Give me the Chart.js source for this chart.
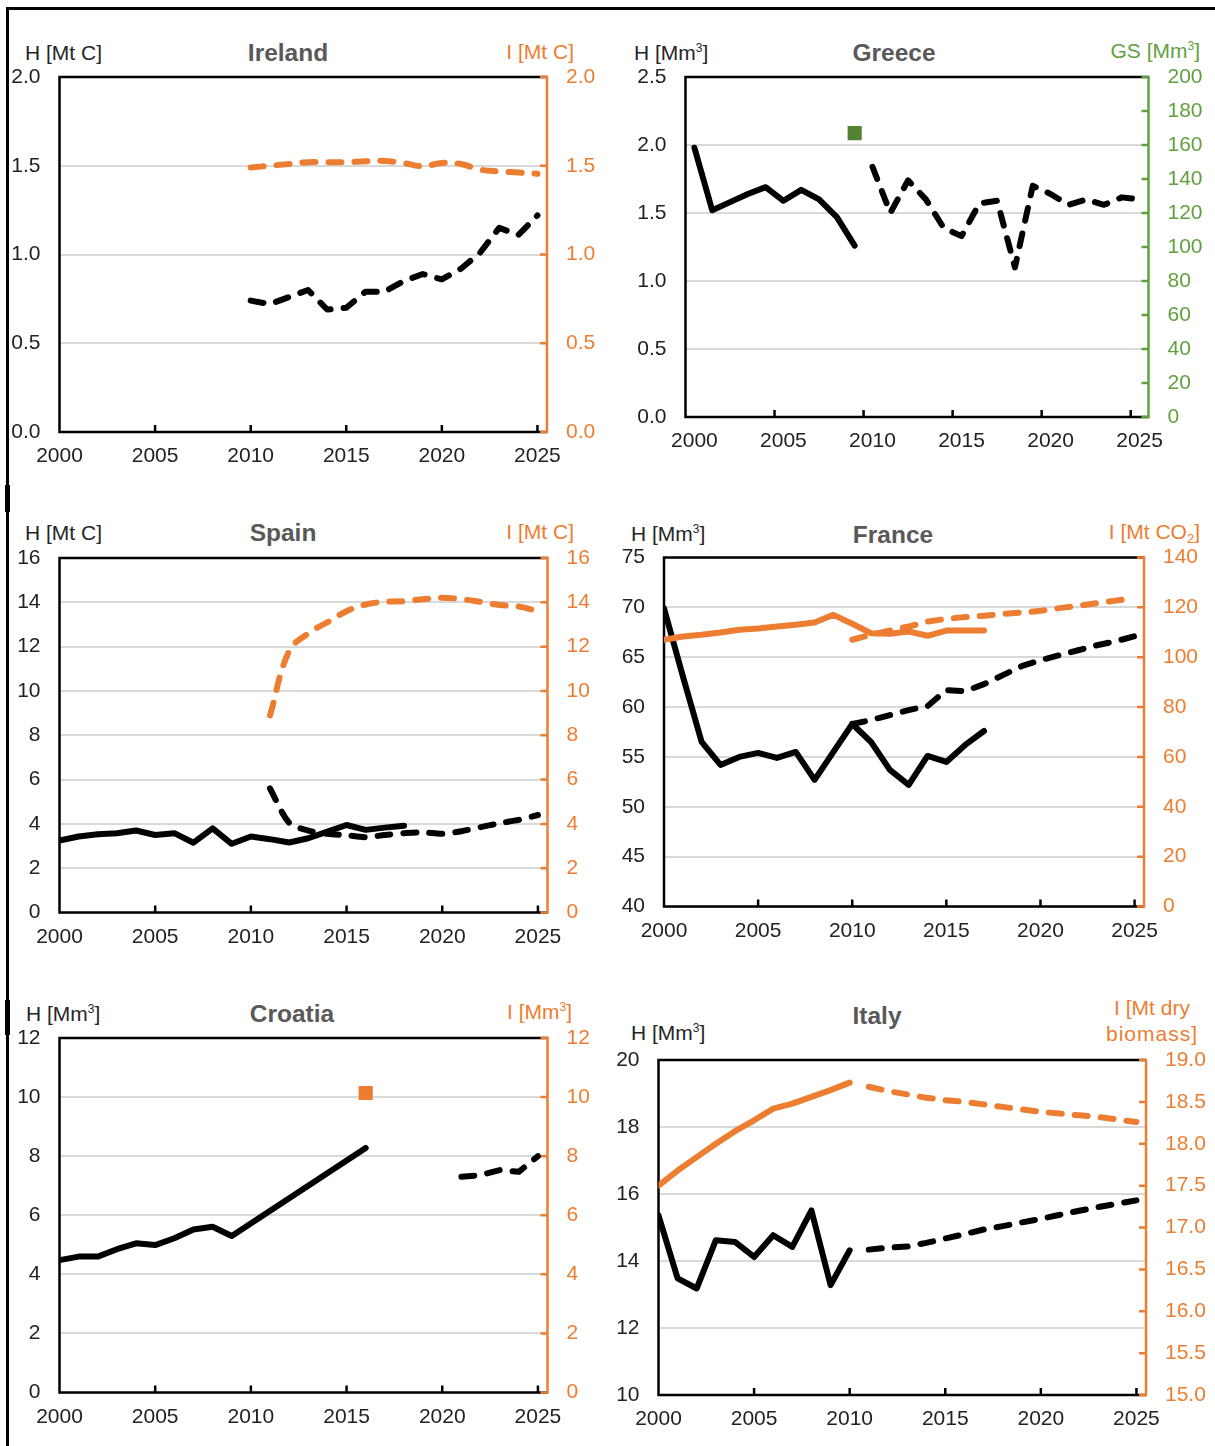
<!DOCTYPE html>
<html>
<head>
<meta charset="utf-8">
<title>Harvest and increment by country</title>
<script src="https://cdn.jsdelivr.net/npm/chart.js@4.4.1/dist/chart.umd.min.js"></script>
<style>
  html, body { margin: 0; padding: 0; background: #fff; }
  body { position: relative; width: 1215px; height: 1446px; overflow: hidden;
         font-family: "Liberation Sans", Arial, sans-serif; }
  canvas { position: absolute; }
  .rule { position: absolute; background: #000; }
  .ax { position: absolute; font-size: 21px; line-height: 21px; color: #262626; white-space: nowrap; }
  .axr { position: absolute; font-size: 21px; line-height: 21px; white-space: nowrap; text-align: right; }
  .ttl { position: absolute; font-size: 24.5px; line-height: 24.5px; font-weight: bold; color: #595959;
         white-space: nowrap; transform: translateX(-50%); }
  sup { font-size: 12px; vertical-align: 8px; line-height: 0; }
  sub { font-size: 13px; vertical-align: -4px; line-height: 0; }
</style>
</head>
<body>
<div class="rule" style="left:6px;top:7px;width:1209px;height:3px"></div>
<div class="rule" style="left:6px;top:7px;width:3px;height:1439px"></div>
<div class="rule" style="left:5px;top:485px;width:5px;height:27px"></div>
<div class="rule" style="left:5px;top:1000px;width:5px;height:35px"></div>

<!-- axis and panel titles -->
<div class="ax" style="left:25px;top:42px">H [Mt C]</div>
<div class="ttl" style="left:288px;top:41px">Ireland</div>
<div class="axr" style="right:641px;top:41px;color:#ED7D31">I [Mt C]</div>

<div class="ax" style="left:634px;top:42px">H [Mm<sup>3</sup>]</div>
<div class="ttl" style="left:894px;top:41px">Greece</div>
<div class="axr" style="right:15px;top:40px;color:#62A03F">GS [Mm<sup>3</sup>]</div>

<div class="ax" style="left:25px;top:522px">H [Mt C]</div>
<div class="ttl" style="left:283px;top:521px">Spain</div>
<div class="axr" style="right:641px;top:521px;color:#ED7D31">I [Mt C]</div>

<div class="ax" style="left:631px;top:523px">H [Mm<sup>3</sup>]</div>
<div class="ttl" style="left:893px;top:523px">France</div>
<div class="axr" style="right:15px;top:521px;color:#ED7D31">I [Mt CO<sub>2</sub>]</div>

<div class="ax" style="left:26px;top:1003px">H [Mm<sup>3</sup>]</div>
<div class="ttl" style="left:292px;top:1002px">Croatia</div>
<div class="axr" style="right:643px;top:1001px;color:#ED7D31">I [Mm<sup>3</sup>]</div>

<div class="ax" style="left:631px;top:1022px">H [Mm<sup>3</sup>]</div>
<div class="ttl" style="left:877px;top:1004px">Italy</div>
<div class="axr" style="left:1102px;width:100px;top:995px;color:#ED7D31;line-height:26px;text-align:center">I [Mt dry<br><span style="letter-spacing:1px">biomass]</span></div>

<canvas id="c-ireland"></canvas>
<canvas id="c-greece"></canvas>
<canvas id="c-spain"></canvas>
<canvas id="c-france"></canvas>
<canvas id="c-croatia"></canvas>
<canvas id="c-italy"></canvas>

<script>
// ---------- data ----------
const X_LABELS = [2000, 2005, 2010, 2015, 2020, 2025];

// Ireland [Mt C]
const IE_PROJ_YEARS = [2010, 2011, 2012, 2013, 2014, 2015, 2016, 2017, 2018, 2019, 2020, 2021, 2022, 2023, 2024, 2025];
const IE_HARVEST_PROJ = [0.74, 0.72, 0.76, 0.80, 0.69, 0.70, 0.79, 0.79, 0.85, 0.89, 0.86, 0.92, 1.01, 1.15, 1.11, 1.22];
const IE_INCREMENT_PROJ = [1.49, 1.50, 1.51, 1.52, 1.52, 1.52, 1.525, 1.527, 1.515, 1.497, 1.516, 1.51, 1.478, 1.468, 1.462, 1.455];

// Greece [Mm3]
const GR_OBS_YEARS = [2000, 2001, 2002, 2003, 2004, 2005, 2006, 2007, 2008, 2009];
const GR_HARVEST_OBS = [1.98, 1.52, 1.58, 1.64, 1.69, 1.59, 1.67, 1.60, 1.47, 1.26];
const GR_PROJ_YEARS = [2010, 2011, 2012, 2013, 2014, 2015, 2016, 2017, 2018, 2019, 2020, 2021, 2022, 2023, 2024, 2025];
const GR_HARVEST_PROJ = [1.84, 1.50, 1.74, 1.60, 1.39, 1.33, 1.57, 1.59, 1.10, 1.70, 1.64, 1.56, 1.60, 1.56, 1.615, 1.60];
const GR_STOCK_YEARS = [2009];
const GR_GROWING_STOCK = [167];

// Spain [Mt C]
const ES_OBS_YEARS = [2000, 2001, 2002, 2003, 2004, 2005, 2006, 2007, 2008, 2009, 2010, 2011, 2012, 2013, 2014, 2015, 2016, 2017, 2018];
const ES_HARVEST_OBS = [3.25, 3.43, 3.53, 3.58, 3.70, 3.50, 3.58, 3.15, 3.80, 3.10, 3.43, 3.31, 3.16, 3.35, 3.65, 3.95, 3.73, 3.83, 3.92];
const ES_PROJ_YEARS = [2011, 2012, 2013, 2014, 2015, 2016, 2017, 2018, 2019, 2020, 2021, 2022, 2023, 2024, 2025];
const ES_HARVEST_PROJ = [5.60, 4.05, 3.70, 3.55, 3.49, 3.40, 3.50, 3.58, 3.62, 3.55, 3.67, 3.85, 4.03, 4.18, 4.40];
const ES_INCREMENT_PROJ = [8.9, 11.8, 12.6, 13.1, 13.6, 13.9, 14.02, 14.05, 14.14, 14.21, 14.14, 14.02, 13.88, 13.81, 13.6];

// France [Mm3] and [Mt CO2]
const FR_OBS_YEARS = [2000, 2001, 2002, 2003, 2004, 2005, 2006, 2007, 2008, 2009, 2010, 2011, 2012, 2013, 2014, 2015, 2016, 2017];
const FR_HARVEST_OBS = [69.9, 63.1, 56.5, 54.2, 55.0, 55.4, 54.9, 55.5, 52.7, 55.5, 58.3, 56.5, 53.7, 52.2, 55.1, 54.5, 56.2, 57.6];
const FR_INCREMENT_OBS = [107.0, 108.3, 109.0, 109.9, 111.0, 111.5, 112.3, 113.0, 113.9, 117.0, 113.4, 109.6, 109.4, 110.3, 108.6, 110.7, 110.7, 110.7];
const FR_PROJ_YEARS = [2010, 2011, 2012, 2013, 2014, 2015, 2016, 2017, 2018, 2019, 2020, 2021, 2022, 2023, 2024, 2025];
const FR_HARVEST_PROJ = [58.3, 58.7, 59.2, 59.7, 60.1, 61.7, 61.6, 62.3, 63.2, 64.1, 64.7, 65.2, 65.7, 66.2, 66.6, 67.1];
const FR_INCREMENT_PROJ = [107.0, 109.0, 110.7, 112.3, 114.3, 115.4, 116.1, 116.6, 117.4, 117.9, 118.6, 119.7, 120.6, 121.7, 122.7, 123.7];

// Croatia [Mm3]; 2010-2015 not reported, drawn as a straight span
const HR_OBS_YEARS = [2000, 2001, 2002, 2003, 2004, 2005, 2006, 2007, 2008, 2009, 2010, 2011, 2012, 2013, 2014, 2015, 2016];
const HR_HARVEST_OBS = [4.48, 4.60, 4.60, 4.85, 5.05, 4.99, 5.22, 5.52, 5.61, 5.30, null, null, null, null, null, null, 8.28];
const HR_PROJ_YEARS = [2021, 2022, 2023, 2024, 2025];
const HR_HARVEST_PROJ = [7.30, 7.36, 7.53, 7.47, 8.00];
const HR_INCREMENT_YEARS = [2016];
const HR_INCREMENT = [10.14];

// Italy [Mm3] and [Mt dry biomass]
const IT_OBS_YEARS = [2000, 2001, 2002, 2003, 2004, 2005, 2006, 2007, 2008, 2009, 2010];
const IT_HARVEST_OBS = [15.36, 13.48, 13.18, 14.62, 14.57, 14.12, 14.77, 14.42, 15.51, 13.28, 14.32];
const IT_INCREMENT_OBS = [17.50, 17.68, 17.84, 18.00, 18.15, 18.28, 18.42, 18.48, 18.56, 18.64, 18.73];
const IT_PROJ_YEARS = [2011, 2012, 2013, 2014, 2015, 2016, 2017, 2018, 2019, 2020, 2021, 2022, 2023, 2024, 2025];
const IT_HARVEST_PROJ = [14.34, 14.40, 14.43, 14.54, 14.67, 14.80, 14.94, 15.04, 15.15, 15.26, 15.38, 15.50, 15.61, 15.71, 15.81];
const IT_INCREMENT_PROJ = [18.68, 18.63, 18.59, 18.55, 18.52, 18.50, 18.47, 18.44, 18.41, 18.38, 18.36, 18.34, 18.32, 18.29, 18.26];

// ---------- styling ----------
const BLACK = '#000000';
const ORANGE = '#ED7D31';
const GREEN = '#62A03F';
const GREEN_MARK = '#548235';
const TEXT = '#222222';
const GRID = '#d9d9d9';
const FONT = { family: '"Liberation Sans", Arial, sans-serif', size: 21 };
const LINE_W = 6;
const DASH = [13, 13];

function pts(years, values) {
  return years.map((yr, i) => ({ x: yr, y: values[i] }));
}

function line(years, values, color, dashed, axis, extra) {
  return Object.assign({
    data: pts(years, values),
    yAxisID: axis || 'y',
    borderColor: color,
    borderWidth: LINE_W,
    borderDash: dashed ? DASH : [],
    borderCapStyle: 'round',
    borderJoinStyle: 'round',
    pointRadius: 0,
    tension: 0,
    fill: false
  }, extra || {});
}

function square(years, values, color, axis) {
  return {
    data: pts(years, values),
    yAxisID: axis,
    showLine: false,
    pointStyle: 'rect',
    pointRadius: 10,
    pointBackgroundColor: color,
    pointBorderWidth: 0,
    borderColor: color,
    backgroundColor: color
  };
}

// Plot frame: black top/left/bottom edges, coloured secondary axis, inward tick marks
const framePlugin = {
  id: 'panelFrame',
  beforeDatasetsDraw(chart, args, opts) {
    const { ctx, chartArea: a } = chart;
    const xs = chart.scales.x, ys = chart.scales.y1;
    const lw = 2.5, tl = 7;
    ctx.save();
    ctx.lineCap = 'butt';
    ctx.lineWidth = lw;
    ctx.strokeStyle = BLACK;
    ctx.beginPath();
    (opts.marks || []).forEach(v => {
      const px = xs.getPixelForValue(v);
      ctx.moveTo(px, a.bottom); ctx.lineTo(px, a.bottom - tl);
    });
    ctx.moveTo(a.left, a.top); ctx.lineTo(a.right, a.top);
    ctx.moveTo(a.left, a.top - lw / 2); ctx.lineTo(a.left, a.bottom + lw / 2);
    ctx.moveTo(a.left - lw / 2, a.bottom); ctx.lineTo(a.right, a.bottom);
    ctx.stroke();
    ctx.strokeStyle = opts.accent;
    ctx.beginPath();
    ctx.moveTo(a.right, a.top - lw / 2); ctx.lineTo(a.right, a.bottom + lw / 2);
    ys.ticks.forEach(t => {
      const py = ys.getPixelForValue(t.value);
      ctx.moveTo(a.right, py); ctx.lineTo(a.right - tl, py);
    });
    ctx.stroke();
    ctx.restore();
  }
};

function yScale(cfg, position, color, withGrid, width) {
  return {
    type: 'linear',
    position: position,
    min: cfg.min, max: cfg.max,
    afterFit: s => { s.width = width; },
    border: { display: false },
    grid: withGrid
      ? { display: true, drawOnChartArea: true, drawTicks: false, color: GRID, lineWidth: 2 }
      : { display: false, drawOnChartArea: false, drawTicks: false },
    ticks: {
      stepSize: cfg.step, maxTicksLimit: 30, padding: 19, color: color, font: FONT,
      callback: v => Number(v).toFixed(cfg.dec)
    }
  };
}

function panel(p) {
  const el = document.getElementById(p.id);
  el.width = p.box.w; el.height = p.box.h;
  el.style.left = p.box.x + 'px'; el.style.top = p.box.y + 'px';
  const leftW = p.area.l - p.box.x;
  const rightW = p.box.x + p.box.w - p.area.r;
  const bottomH = p.box.y + p.box.h - p.area.b;
  const padTop = p.area.t - p.box.y;
  new Chart(el, {
    type: 'line',
    data: { datasets: p.datasets },
    plugins: [framePlugin],
    options: {
      responsive: false,
      maintainAspectRatio: false,
      animation: false,
      events: [],
      layout: { padding: { top: padTop, left: 0, right: 0, bottom: 0 } },
      plugins: {
        legend: { display: false },
        tooltip: { enabled: false },
        panelFrame: { accent: p.accent, marks: p.marks }
      },
      scales: {
        x: {
          type: 'linear', position: 'bottom',
          min: p.xMin, max: p.xMax,
          afterBuildTicks: s => { s.ticks = X_LABELS.map(v => ({ value: v })); },
          afterFit: s => { s.height = bottomH; },
          border: { display: false },
          grid: { display: false, drawTicks: false },
          ticks: { autoSkip: false, maxRotation: 0, padding: 12, color: TEXT, font: FONT,
                   callback: v => String(v) }
        },
        y: yScale(p.y, 'left', TEXT, true, leftW),
        y1: yScale(p.y1, 'right', p.accent, false, rightW)
      }
    }
  });
}

const MARKS = [2005, 2010, 2015, 2020, 2025];

panel({
  id: 'c-ireland',
  box: { x: 10, y: 30, w: 595, h: 450 },
  area: { l: 59.5, t: 77, r: 547, b: 432 },
  xMin: 2000, xMax: 2025.5, marks: MARKS, accent: ORANGE,
  y: { min: 0, max: 2, step: 0.5, dec: 1 },
  y1: { min: 0, max: 2, step: 0.5, dec: 1 },
  datasets: [
    line(IE_PROJ_YEARS, IE_INCREMENT_PROJ, ORANGE, true, 'y1', { tension: 0.4 }),
    line(IE_PROJ_YEARS, IE_HARVEST_PROJ, BLACK, true, 'y')
  ]
});

panel({
  id: 'c-greece',
  box: { x: 608, y: 30, w: 607, h: 450 },
  area: { l: 685.5, t: 77, r: 1148.5, b: 417 },
  xMin: 1999.5, xMax: 2025.5, marks: [2004.5, 2009.5, 2014.5, 2019.5, 2024.5], accent: GREEN,
  y: { min: 0, max: 2.5, step: 0.5, dec: 1 },
  y1: { min: 0, max: 200, step: 20, dec: 0 },
  datasets: [
    line(GR_OBS_YEARS, GR_HARVEST_OBS, BLACK, false, 'y'),
    line(GR_PROJ_YEARS, GR_HARVEST_PROJ, BLACK, true, 'y'),
    square(GR_STOCK_YEARS, GR_GROWING_STOCK, GREEN_MARK, 'y1')
  ]
});

panel({
  id: 'c-spain',
  box: { x: 10, y: 510, w: 595, h: 450 },
  area: { l: 59.5, t: 558, r: 547.5, b: 912.5 },
  xMin: 2000, xMax: 2025.5, marks: MARKS, accent: ORANGE,
  y: { min: 0, max: 16, step: 2, dec: 0 },
  y1: { min: 0, max: 16, step: 2, dec: 0 },
  datasets: [
    line(ES_PROJ_YEARS, ES_INCREMENT_PROJ, ORANGE, true, 'y1', { tension: 0.4 }),
    line(ES_OBS_YEARS, ES_HARVEST_OBS, BLACK, false, 'y'),
    line(ES_PROJ_YEARS, ES_HARVEST_PROJ, BLACK, true, 'y', { tension: 0.3 })
  ]
});

panel({
  id: 'c-france',
  box: { x: 608, y: 510, w: 607, h: 450 },
  area: { l: 664, t: 557.5, r: 1144, b: 906.5 },
  xMin: 2000, xMax: 2025.5, marks: MARKS, accent: ORANGE,
  y: { min: 40, max: 75, step: 5, dec: 0 },
  y1: { min: 0, max: 140, step: 20, dec: 0 },
  datasets: [
    line(FR_OBS_YEARS, FR_INCREMENT_OBS, ORANGE, false, 'y1'),
    line(FR_PROJ_YEARS, FR_INCREMENT_PROJ, ORANGE, true, 'y1'),
    line(FR_OBS_YEARS, FR_HARVEST_OBS, BLACK, false, 'y'),
    line(FR_PROJ_YEARS, FR_HARVEST_PROJ, BLACK, true, 'y')
  ]
});

panel({
  id: 'c-croatia',
  box: { x: 10, y: 990, w: 595, h: 456 },
  area: { l: 59.5, t: 1038, r: 547.5, b: 1392.5 },
  xMin: 2000, xMax: 2025.5, marks: MARKS, accent: ORANGE,
  y: { min: 0, max: 12, step: 2, dec: 0 },
  y1: { min: 0, max: 12, step: 2, dec: 0 },
  datasets: [
    line(HR_OBS_YEARS, HR_HARVEST_OBS, BLACK, false, 'y', { spanGaps: true }),
    line(HR_PROJ_YEARS, HR_HARVEST_PROJ, BLACK, true, 'y'),
    square(HR_INCREMENT_YEARS, HR_INCREMENT, ORANGE, 'y1')
  ]
});

panel({
  id: 'c-italy',
  box: { x: 608, y: 990, w: 607, h: 456 },
  area: { l: 658.5, t: 1060, r: 1146, b: 1395 },
  xMin: 2000, xMax: 2025.5, marks: MARKS, accent: ORANGE,
  y: { min: 10, max: 20, step: 2, dec: 0 },
  y1: { min: 15, max: 19, step: 0.5, dec: 1 },
  datasets: [
    line(IT_OBS_YEARS, IT_INCREMENT_OBS, ORANGE, false, 'y1'),
    line(IT_PROJ_YEARS, IT_INCREMENT_PROJ, ORANGE, true, 'y1'),
    line(IT_OBS_YEARS, IT_HARVEST_OBS, BLACK, false, 'y'),
    line(IT_PROJ_YEARS, IT_HARVEST_PROJ, BLACK, true, 'y')
  ]
});
</script>
</body>
</html>
